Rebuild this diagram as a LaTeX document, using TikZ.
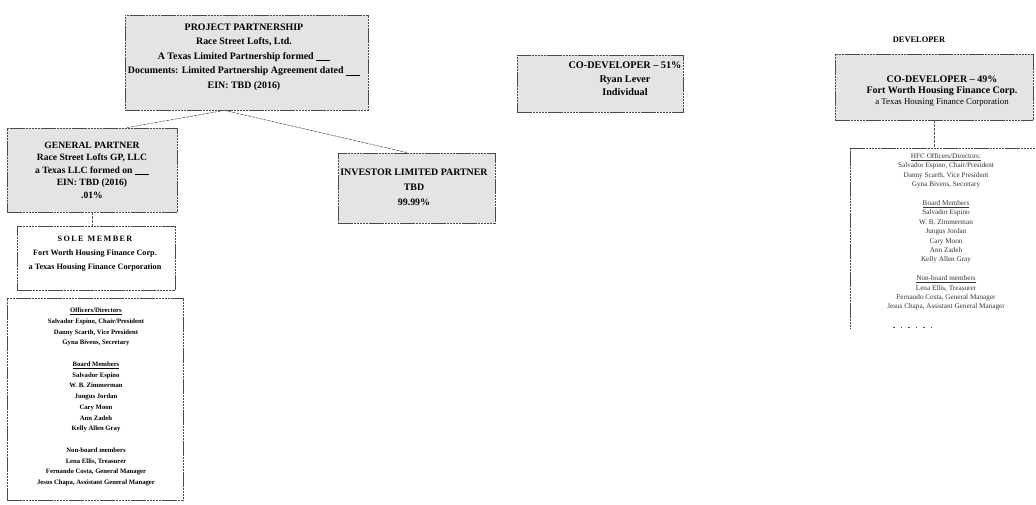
\documentclass[tikz,border=0pt]{standalone}
\usepackage{fontspec}
\setmainfont{Liberation Serif}
\usepackage{tikz}
\usetikzlibrary{calc}
\definecolor{scan}{HTML}{E4E4E4}
\definecolor{scanline}{HTML}{4A4A4A}
\newcommand{\blank}{\underline{\hspace{14pt}}}
\begin{document}
\begin{tikzpicture}[x=1pt,y=-1pt,
    box/.style={draw=scanline,line width=0.8pt,dash pattern=on 2.5pt off 0.6pt,
      inner sep=0pt},
    shade/.style={box,fill=scan},
    link/.style={draw=black!65,line width=0.6pt,dash pattern=on 3pt off 1pt},
    txt/.style={inner sep=0pt,align=center,font=\bfseries}]
  \useasboundingbox (0,0) rectangle (1036,505);
  % partnership tree
  \node[shade,minimum width=243,minimum height=95] (pp) at (246.5,62.5) {};
  \node[txt,font=\bfseries\fontsize{9.9}{14.5}\selectfont] (pptxt) at (244,57)
    {PROJECT PARTNERSHIP\\Race Street Lofts, Ltd.\\
     A Texas Limited Partnership formed \blank\\
     Documents: Limited Partnership Agreement dated \blank\\
     EIN: TBD (2016)};
  \node[shade,minimum width=170,minimum height=84] (gp) at (92,170) {};
  \node[txt,font=\bfseries\fontsize{9.6}{12.5}\selectfont] (gptxt) at (92,170)
    {GENERAL PARTNER\\Race Street Lofts GP, LLC\\
     a Texas LLC formed on \blank\\EIN: TBD (2016)\\.01\%};
  \node[shade,minimum width=157,minimum height=70] (ilp) at (416.5,188) {};
  \node[txt,font=\bfseries\fontsize{9.9}{15}\selectfont] (ilptxt) at (414,187)
    {INVESTOR LIMITED PARTNER\\TBD\\99.99\%};
  \node[box,fill=white,minimum width=158,minimum height=64] (sole) at (96,258) {};
  \node[txt,font=\bfseries\fontsize{8.2}{14}\selectfont] (soletxt) at (95,254)
    {S\,O\,L\,E \ M\,E\,M\,B\,E\,R\\Fort Worth Housing Finance Corp.\\
     a Texas Housing Finance Corporation};
  \node[box,fill=white,minimum width=176,minimum height=202] (offl) at (95,399) {};
  \node[txt,font=\bfseries\fontsize{6.7}{10.75}\selectfont] (offltxt) at (96,397)
    {\underline{Officers/Directors}\\Salvador Espino, Chair/President\\
     Danny Scarth, Vice President\\Gyna Bivens, Secretary\\[10.75pt]
     \underline{Board Members}\\Salvador Espino\\W. B. Zimmerman\\
     Jungus Jordan\\Cary Moon\\Ann Zadeh\\Kelly Allen Gray\\[10.75pt]
     Non-board members\\Lena Ellis, Treasurer\\
     Fernando Costa, General Manager\\Jesus Chapa, Assistant General Manager};
  \draw[link] ($(pp.south west)!0.41!(pp.south east)$)
    -- ($(gp.north west)!0.705!(gp.north east)$);
  \draw[link] ($(pp.south west)!0.41!(pp.south east)$)
    -- ($(ilp.north west)!0.44!(ilp.north east)$);
  \draw[link] (gp.south) -- (gp.south |- sole.north);
  % developer side
  \node[txt,font=\bfseries\fontsize{8.4}{9}\selectfont] (dev) at (919,40) {DEVELOPER};
  \node[shade,minimum width=166,minimum height=57] (cod1) at (600,83.5) {};
  \node[txt,font=\bfseries\fontsize{10.2}{13.5}\selectfont] (cod1txt) at (625,79)
    {CO-DEVELOPER -- 51\%\\Ryan Lever\\Individual};
  \node[shade,minimum width=198,minimum height=66] (cod2) at (934,87) {};
  \node[txt,font=\bfseries\fontsize{10}{11}\selectfont] (cod2txt) at (942,91)
    {CO-DEVELOPER -- 49\%\\Fort Worth Housing Finance Corp.\\
     {\mdseries\fontsize{8.8}{11}\selectfont a Texas Housing Finance Corporation}};
  \coordinate (offr) at (850,148);
  \draw[box] (offr) -- ++(0,180);
  \draw[box] (offr) -- (1036,148);
  \node[txt,font=\fontsize{7.2}{9.4}\selectfont,text=black!80] (offrtxt) at (946,232)
    {\underline{HFC Officers/Directors:}\\Salvador Espino, Chair/President\\
     Danny Scarth, Vice President\\Gyna Bivens, Secretary\\[9.4pt]
     \underline{Board Members}\\Salvador Espino\\W. B. Zimmerman\\
     Jungus Jordan\\Cary Moon\\Ann Zadeh\\Kelly Allen Gray\\[9.4pt]
     \underline{Non-board members}\\Lena Ellis, Treasurer\\
     Fernando Costa, General Manager\\Jesus Chapa, Assistant General Manager};
  \draw[black!70,line width=0.6pt,dash pattern=on 1.5pt off 6pt] (893,327) -- (937,327);
  \draw[link] (cod2.south) -- (cod2.south |- offr);
\end{tikzpicture}
\end{document}
